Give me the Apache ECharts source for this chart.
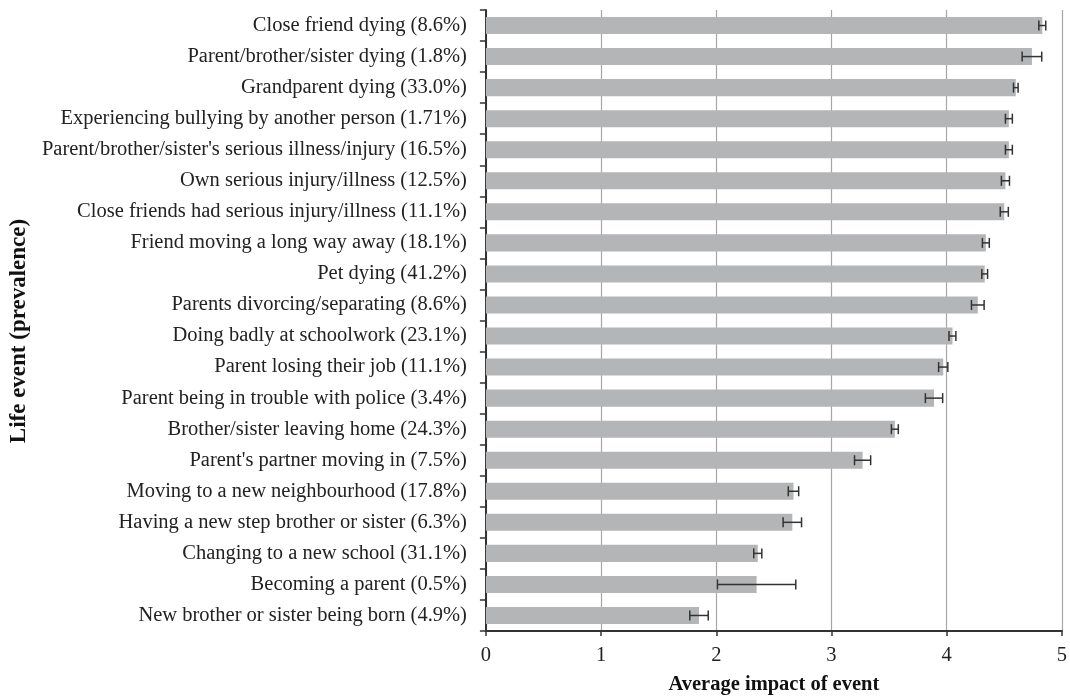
<!DOCTYPE html>
<html>
<head>
<meta charset="utf-8">
<script src="https://cdn.jsdelivr.net/npm/echarts@6/dist/echarts.min.js"></script>
<style>html,body{margin:0;padding:0;background:#fff}#c{width:1070px;height:700px}</style>
</head>
<body>
<div id="c"></div>
<script>
var categories = [
  "Close friend dying (8.6%)",
  "Parent/brother/sister dying (1.8%)",
  "Grandparent dying (33.0%)",
  "Experiencing bullying by another person (1.71%)",
  "Parent/brother/sister's serious illness/injury (16.5%)",
  "Own serious injury/illness (12.5%)",
  "Close friends had serious injury/illness (11.1%)",
  "Friend moving a long way away (18.1%)",
  "Pet dying (41.2%)",
  "Parents divorcing/separating (8.6%)",
  "Doing badly at schoolwork (23.1%)",
  "Parent losing their job (11.1%)",
  "Parent being in trouble with police (3.4%)",
  "Brother/sister leaving home (24.3%)",
  "Parent's partner moving in (7.5%)",
  "Moving to a new neighbourhood (17.8%)",
  "Having a new step brother or sister (6.3%)",
  "Changing to a new school (31.1%)",
  "Becoming a parent (0.5%)",
  "New brother or sister being born (4.9%)"
];
var impact = [4.83, 4.74, 4.60, 4.54, 4.54, 4.51, 4.50, 4.34, 4.33, 4.27, 4.05, 3.97, 3.89, 3.55, 3.27, 2.67, 2.66, 2.36, 2.35, 1.85];
var errors = [0.03, 0.085, 0.02, 0.03, 0.03, 0.035, 0.035, 0.03, 0.025, 0.055, 0.03, 0.04, 0.075, 0.03, 0.07, 0.045, 0.08, 0.035, 0.34, 0.08];
var xTicks = [0, 1, 2, 3, 4, 5];

var errData = impact.map(function (v, i) { return [i, v - errors[i], v + errors[i]]; });
var font = "Liberation Serif";

var chart = echarts.init(document.getElementById('c'));
chart.setOption({
  animation: false,
  backgroundColor: '#fff',
  grid: { left: 481, right: 8, top: 10, bottom: 62, containLabel: false },
  xAxis: {
    type: 'value', min: xTicks[0], max: xTicks[xTicks.length - 1], interval: 1,
    name: 'Average impact of event', nameLocation: 'middle', nameGap: 43,
    nameTextStyle: { fontFamily: font, fontWeight: 'bold', fontSize: 20.5, color: '#111' },
    axisLine: { show: true, lineStyle: { color: '#333', width: 2 } },
    axisTick: { show: true, length: 5, lineStyle: { color: '#333', width: 1.5 } },
    axisLabel: { fontFamily: font, fontSize: 20.5, color: '#222', margin: 14 },
    splitLine: { show: true, lineStyle: { color: '#a6a6a6', width: 1.2 } }
  },
  yAxis: {
    type: 'category', data: categories, inverse: true,
    name: 'Life event (prevalence)', nameLocation: 'middle', nameGap: 442, nameRotate: 90,
    nameTextStyle: { fontFamily: font, fontWeight: 'bold', fontSize: 23, color: '#111', padding: [0, 21, 0, 0] },
    axisLine: { show: true, lineStyle: { color: '#333', width: 2 } },
    axisTick: { show: true, length: 6, lineStyle: { color: '#333', width: 1.5 } },
    axisLabel: { fontFamily: font, fontSize: 20.5, color: '#222', margin: 19 },
    splitLine: { show: false }
  },
  series: [
    {
      type: 'bar', data: impact, barCategoryGap: '45%',
      itemStyle: { color: '#b4b5b7' }, z: 2
    },
    {
      type: 'custom', data: errData, z: 3,
      renderItem: function (params, api) {
        var i = api.value(0);
        var lo = api.coord([api.value(1), i]);
        var hi = api.coord([api.value(2), i]);
        var h = 5;
        var st = { stroke: '#333', lineWidth: 1.5 };
        return {
          type: 'group',
          children: [
            { type: 'line', shape: { x1: lo[0], y1: lo[1], x2: hi[0], y2: hi[1] }, style: st },
            { type: 'line', shape: { x1: lo[0], y1: lo[1] - h, x2: lo[0], y2: lo[1] + h }, style: st },
            { type: 'line', shape: { x1: hi[0], y1: hi[1] - h, x2: hi[0], y2: hi[1] + h }, style: st }
          ]
        };
      },
      encode: { x: [1, 2], y: 0 }
    }
  ]
});
</script>
</body>
</html>
